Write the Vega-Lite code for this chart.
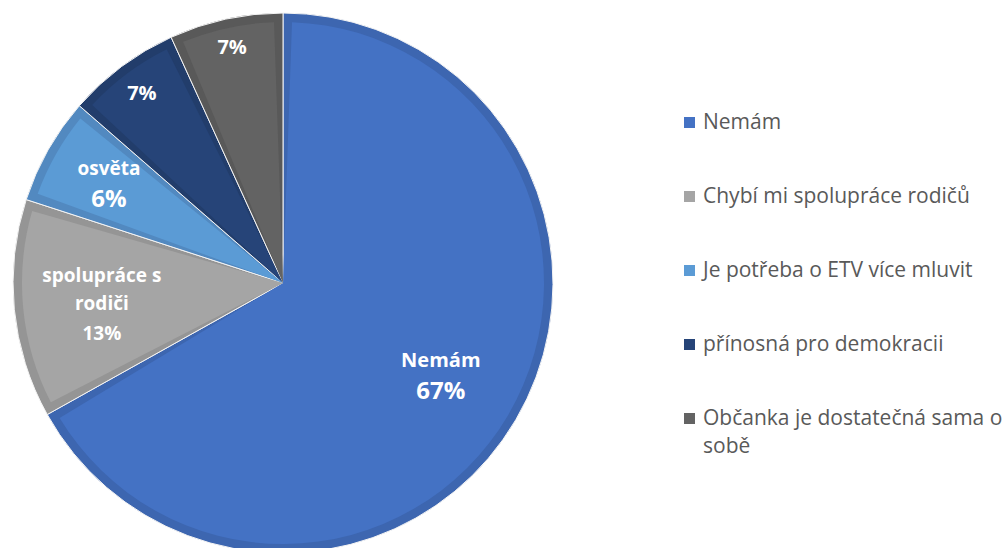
{
  "$schema": "https://vega.github.io/schema/vega-lite/v6.json",
  "width": 566,
  "height": 566,
  "padding": 0,
  "background": "white",
  "data": {
    "values": [
      {"k": 1, "cat": "Nemám", "value": 66.9, "name": "Nemám", "pct": "67%"},
      {"k": 2, "cat": "Chybí mi spolupráce rodičů", "value": 13.1, "name": "spolupráce s\nrodiči", "pct": "13%"},
      {"k": 3, "cat": "Je potřeba o ETV více mluvit", "value": 6.4, "name": "osvěta", "pct": "6%"},
      {"k": 4, "cat": "přínosná pro demokracii", "value": 6.8, "name": "", "pct": "7%"},
      {"k": 5, "cat": "Občanka je dostatečná sama o sobě", "value": 6.8, "name": "", "pct": "7%"}
    ]
  },
  "encoding": {
    "theta": {"field": "value", "type": "quantitative", "stack": true},
    "order": {"field": "k", "type": "quantitative"}
  },
  "layer": [
    {
      "mark": {"type": "arc", "outerRadius": 270, "stroke": "#f4f4f4", "strokeWidth": 1},
      "encoding": {
        "color": {
          "field": "cat", "type": "nominal",
          "scale": {
            "domain": ["Nemám", "Chybí mi spolupráce rodičů", "Je potřeba o ETV více mluvit", "přínosná pro demokracii", "Občanka je dostatečná sama o sobě"],
            "range": ["#3D66B0", "#959595", "#5289C0", "#223D6B", "#595959"]
          },
          "legend": null
        }
      }
    },
    {
      "mark": {"type": "arc", "outerRadius": 261, "padAngle": 0.069},
      "encoding": {
        "color": {
          "field": "cat", "type": "nominal",
          "scale": {
            "domain": ["Nemám", "Chybí mi spolupráce rodičů", "Je potřeba o ETV více mluvit", "přínosná pro demokracii", "Občanka je dostatečná sama o sobě"],
            "range": ["#4472C4", "#A5A5A5", "#5B9BD5", "#264478", "#636363"]
          },
          "legend": {
            "title": null,
            "orient": "none",
            "legendX": 679,
            "legendY": 112,
            "padding": 0,
            "symbolType": "square",
            "symbolSize": 121,
            "symbolStrokeWidth": 0,
            "labelFont": "Open Sans",
            "labelFontSize": 21,
            "labelColor": "#595959",
            "rowPadding": 52,
            "labelOffset": 3,
            "labelLimit": 400,
            "labelExpr": "datum.label == 'Občanka je dostatečná sama o sobě' ? ['Občanka je dostatečná sama o', 'sobě'] : datum.label"
          }
        }
      }
    },
    {
      "mark": {"type": "text", "radius": 183, "dy": -15, "font": "Open Sans", "fontWeight": "bold", "fontSize": 20, "color": "white"},
      "encoding": {"text": {"condition": {"test": "datum.k == 1", "field": "name"}, "value": ""}}
    },
    {
      "mark": {"type": "text", "radius": 183, "dy": 16, "font": "Open Sans", "fontWeight": "bold", "fontSize": 24, "color": "white"},
      "encoding": {"text": {"condition": {"test": "datum.k == 1", "field": "pct"}, "value": ""}}
    },
    {
      "mark": {"type": "text", "radius": 182, "dy": -25, "lineBreak": "\n", "lineHeight": 28, "font": "Open Sans", "fontWeight": "bold", "fontSize": 19, "color": "white"},
      "encoding": {"text": {"condition": {"test": "datum.k == 2", "field": "name"}, "value": ""}}
    },
    {
      "mark": {"type": "text", "radius": 182, "dy": 33, "font": "Open Sans", "fontWeight": "bold", "fontSize": 19, "color": "white"},
      "encoding": {"text": {"condition": {"test": "datum.k == 2", "field": "pct"}, "value": ""}}
    },
    {
      "mark": {"type": "text", "radius": 200, "dy": -15, "font": "Open Sans", "fontWeight": "bold", "fontSize": 19, "color": "white"},
      "encoding": {"text": {"condition": {"test": "datum.k == 3", "field": "name"}, "value": ""}}
    },
    {
      "mark": {"type": "text", "radius": 200, "dy": 16, "font": "Open Sans", "fontWeight": "bold", "fontSize": 24, "color": "white"},
      "encoding": {"text": {"condition": {"test": "datum.k == 3", "field": "pct"}, "value": ""}}
    },
    {
      "mark": {"type": "text", "radius": 236, "font": "Open Sans", "fontWeight": "bold", "fontSize": 20, "color": "white"},
      "encoding": {"text": {"condition": {"test": "datum.k == 4", "field": "pct"}, "value": ""}}
    },
    {
      "mark": {"type": "text", "radius": 240, "font": "Open Sans", "fontWeight": "bold", "fontSize": 20, "color": "white"},
      "encoding": {"text": {"condition": {"test": "datum.k == 5", "field": "pct"}, "value": ""}}
    }
  ],
  "resolve": {"scale": {"color": "independent"}},
  "config": {
    "view": {"stroke": null},
    "style": {"guide-label": {"lineHeight": 28}}
  }
}
